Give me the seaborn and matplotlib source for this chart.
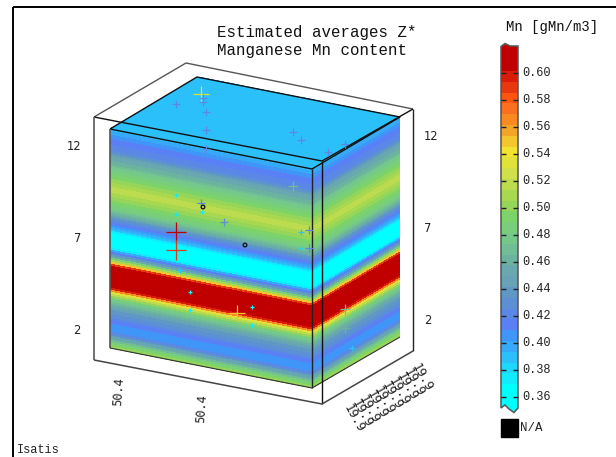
import numpy as np
import pandas as pd
import matplotlib
matplotlib.use('Agg')
import matplotlib.pyplot as plt
from matplotlib.colors import ListedColormap
from matplotlib.patches import Polygon
from matplotlib.transforms import Affine2D
import seaborn as sns

# ── data ─────────────────────────────────────────────────────────────────────
# Mn estimate per vertical layer, top of the block to the bottom
layer_mn = [0.388, 0.392, 0.395, 0.400, 0.405, 0.409, 0.413, 0.415, 0.418, 0.420, 0.423,
            0.428, 0.436, 0.442, 0.448, 0.453, 0.458, 0.463, 0.468, 0.472, 0.477, 0.481,
            0.485, 0.489, 0.493, 0.497, 0.500, 0.504, 0.508, 0.512, 0.515, 0.513, 0.510,
            0.506, 0.502, 0.498, 0.494, 0.490, 0.486, 0.481, 0.475, 0.468, 0.458, 0.448,
            0.438, 0.428, 0.418, 0.410, 0.402, 0.394, 0.384, 0.374, 0.364, 0.358, 0.355,
            0.354, 0.354, 0.354, 0.355, 0.358, 0.372, 0.392, 0.412, 0.432, 0.455, 0.480,
            0.510, 0.545, 0.585, 0.608, 0.615, 0.620, 0.620, 0.620, 0.620, 0.620, 0.620,
            0.620, 0.620, 0.612, 0.595, 0.565, 0.535, 0.515, 0.498, 0.485, 0.475, 0.465,
            0.456, 0.448, 0.442, 0.437, 0.432, 0.428, 0.425, 0.420, 0.414, 0.409, 0.405,
            0.403, 0.402, 0.408, 0.420, 0.430, 0.442, 0.455, 0.468, 0.480, 0.490, 0.498]
top_mn = [[0.388]]

# samples, in the screen units of the block view
sample_x = [201, 203, 203, 176, 206, 206, 206, 293, 301, 328, 345, 293, 176, 176, 201, 202,
            224, 301, 309, 309, 301, 176, 176, 180, 190, 190, 252, 252, 237, 345, 345, 352]
sample_y = [94, 98, 102, 104, 112, 130, 149, 132, 140, 152, 144, 186, 195, 214, 203, 212,
            222, 232, 230, 248, 248, 232, 250, 270, 292, 310, 307, 325, 313, 309, 328, 348]
sample_mn = [0.530, 0.420, 0.420, 0.420, 0.420, 0.420, 0.420, 0.420, 0.420, 0.420, 0.420,
             0.465, 0.375, 0.375, 0.420, 0.375, 0.425, 0.385, 0.420, 0.420, 0.380, 0.600,
             0.590, 0.385, 0.365, 0.375, 0.365, 0.375, 0.550, 0.470, 0.460, 0.385]
na_x = [203, 245]
na_y = [207, 245]

bar_ticks = [0.60, 0.58, 0.56, 0.54, 0.52, 0.50, 0.48, 0.46, 0.44, 0.42, 0.40, 0.38, 0.36]
z_labels = ['12', '7', '2']
x_labels = ['50.4', '50.4']
y_label = '19.9'
y_label_count = 10

# one colour per 0.008 bin, low to high
mn_colors = ['#00ffff', '#00ffff', '#10ecfd', '#1fd6fb', '#2cc0fa', '#36aaf9', '#3f95f8',
             '#5a80f6', '#5b88e6', '#5b90d4', '#5f98c4', '#66a3b4', '#68a8ae', '#6cb39f',
             '#70bd96', '#74c98a', '#78ce7a', '#7cd36a', '#95d65a', '#a8d850', '#bcdb4e',
             '#d0e04a', '#e0e23a', '#f1e32f', '#f3c52f', '#f3a52a', '#f98a22', '#fb7020',
             '#fc5510', '#e8380f', '#d81c08', '#c00000']
MN_MIN, MN_MAX = 0.352, 0.608

# ── style ────────────────────────────────────────────────────────────────────
sns.set_theme(style='white')
plt.rcParams['font.family'] = 'DejaVu Sans'
MONO = 'Liberation Mono'
mn_cmap = ListedColormap(mn_colors)

fig = plt.figure(figsize=(6.16, 4.57), dpi=100, facecolor='white')
ax = fig.add_axes([0, 0, 1, 1])


def face(values, ox, oy, ux, uy, vx, vy):
    # heatmap sheared onto one face of the block
    values = np.array(values)
    sns.heatmap(values, ax=ax, cmap=mn_cmap, vmin=MN_MIN, vmax=MN_MAX, cbar=False)
    mesh = ax.collections[-1]
    nr, nc = values.shape
    mesh.set_transform(Affine2D.from_values(ux / nc, uy / nc, vx / nr, vy / nr, ox, oy)
                       + ax.transData)
    return mesh


profile = np.array(layer_mn)[:, None]
face(top_mn, 110, 129, 202, 40, 88, -52)
face(profile, 110, 129, 202, 40, 0, 219)
face(profile, 312, 169, 88, -52, 0, 219)

# ── block outline and outer box ──────────────────────────────────────────────
for xs, ys, col, lw in [
    ([110, 312, 400, 197, 110], [129, 169, 117, 77, 129], '#111111', 1.0),
    ([312, 312], [169, 388], '#222222', 1.0),
    ([110, 110], [129, 348], '#555555', 1.2),
    ([110, 312, 400], [348, 388, 337], '#333333', 0.8),
    ([94, 186, 413], [117, 63, 109], '#555555', 1.0),
    ([94, 322, 413], [117, 161, 109], '#111111', 1.0),
    ([94, 94], [117, 360], '#666666', 1.3),
    ([322, 322], [161, 404], '#111111', 1.0),
    ([413, 413], [109, 351], '#222222', 1.0),
    ([94, 322, 413], [360, 404, 351], '#444444', 1.1),
    ([13, 13], [457, 7], 'black', 1.4),
    ([13, 616], [7, 7], 'black', 1.4),
]:
    ax.plot(xs, ys, color=col, lw=lw, solid_capstyle='butt', zorder=3)

# ── samples ──────────────────────────────────────────────────────────────────
samples = pd.DataFrame({'x': sample_x, 'y': sample_y, 'mn': sample_mn})
cross_px = 4 + (samples['mn'] - 0.37) * 70
sns.scatterplot(data=samples, x='x', y='y', hue='mn', palette=mn_cmap,
                hue_norm=(MN_MIN, MN_MAX), marker='+', s=(cross_px / 1.39) ** 2,
                linewidth=0.9, legend=False, ax=ax, zorder=4)
sns.scatterplot(x=na_x, y=na_y, marker='o', s=7, facecolor='none', edgecolor='#111111',
                linewidth=0.9, legend=False, ax=ax, zorder=4)

# ── colour bar ───────────────────────────────────────────────────────────────
BAR_L, BAR_R = 501, 518
BAR_CELL = 10.8
bar_levels = np.round(np.arange(0.62, 0.34, -0.008), 3)
bar_top = 71 - 3 * BAR_CELL
bar_mesh = face(bar_levels[:, None], BAR_L, bar_top, BAR_R - BAR_L, 0, 0,
                BAR_CELL * len(bar_levels))
outline = Polygon([(501, 46.5), (505, 43.5), (510, 46), (518, 46), (518, 408), (514, 412.5),
                   (509, 409), (505, 405), (501, 408)], closed=True,
                  transform=ax.transData, fill=False, edgecolor='#555555', lw=1.1, zorder=3)
ax.add_patch(outline)
bar_mesh.set_clip_path(outline)

for tick in bar_ticks:
    ty = 72.5 + (0.60 - tick) * 1352
    ax.plot([BAR_L, BAR_L + 5], [ty, ty], color='#222222', lw=1, solid_capstyle='butt', zorder=4)
    ax.plot([BAR_R - 5, BAR_R], [ty, ty], color='#222222', lw=1, solid_capstyle='butt', zorder=4)
    ax.text(522, ty, f'{tick:.2f}', family=MONO, fontsize=8.6, color='#222222',
            ha='left', va='center')

ax.add_patch(Polygon([(501, 419), (518, 419), (518, 437), (501, 437)], closed=True,
                     color='black', zorder=3))
ax.text(520, 428, 'N/A', family=MONO, fontsize=9, color='#222222', ha='left', va='center')
ax.text(552, 27, 'Mn [gMn/m3]', family=MONO, fontsize=10, color='#111111',
        ha='center', va='center')

# ── text ─────────────────────────────────────────────────────────────────────
ax.text(317, 32, 'Estimated averages Z*', family=MONO, fontsize=11.3, color='#111111',
        ha='center', va='center')
ax.text(312, 51, 'Manganese Mn content', family=MONO, fontsize=11.3, color='#111111',
        ha='center', va='center')
ax.text(17, 450, 'Isatis', family=MONO, fontsize=8.6, color='#222222', ha='left', va='center')

for lab, yl, yr in zip(z_labels, [146, 238, 330], [137, 229, 320]):
    ax.text(81, yl, lab, fontsize=8.3, color='#222222', ha='right', va='center')
    ax.text(424, yr, lab, fontsize=8.3, color='#222222', ha='left', va='center')

for lab, lx, ly in zip(x_labels, [119, 202], [392, 409]):
    ax.text(lx, ly, lab, family='DejaVu Sans Mono', fontsize=8.6, rotation=86,
            color='#222222', ha='center', va='center')

for i in range(y_label_count):
    ax.text(347 + i * 7.5, 405 - i * 4.5, y_label, family='DejaVu Sans Mono', fontsize=9,
            rotation=-61, rotation_mode='anchor', color='#222222', ha='left', va='center')

ax.set_xlim(0, 616)
ax.set_ylim(457, 0)
ax.axis('off')

fig.savefig('out.png', dpi=100, facecolor='white')
